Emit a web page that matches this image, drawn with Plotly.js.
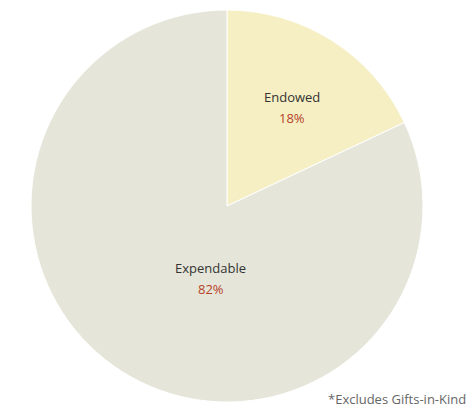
<!DOCTYPE html>
<html>
<head>
<meta charset="utf-8">
<script src="https://cdn.plot.ly/plotly-3.0.1.min.js"></script>
<style>html,body{margin:0;padding:0;background:#fff;}</style>
</head>
<body>
<div id="chart" style="width:471px;height:410px;"></div>
<script>
const categories = ["Endowed", "Expendable"];
const values = [18, 82];
const sliceColors = ["#f5efc3", "#e5e6d9"];
const footnote = "*Excludes Gifts-in-Kind";

// label placement (paper coords) for each slice: [x, yName, yPercent]
const labelPos = [[0.666, 0.779, 0.725], [0.459, 0.343, 0.287]];

const total = values.reduce((a, b) => a + b, 0);
const font = "Open Sans, Liberation Sans, Arial, sans-serif";

const trace = {
  type: "pie",
  labels: categories,
  values: values,
  sort: false,
  direction: "clockwise",
  rotation: 0,
  marker: {colors: sliceColors, line: {color: "#ffffff", width: 1}},
  textinfo: "none",
  hoverinfo: "none",
  showlegend: false
};

const annotations = [];
categories.forEach((c, i) => {
  const pct = Math.round(values[i] / total * 100) + "%";
  annotations.push({text: c, xref: "paper", yref: "paper", x: labelPos[i][0], y: labelPos[i][1],
    xanchor: "center", yanchor: "middle", showarrow: false,
    font: {family: font, size: 13, color: "#333333"}});
  annotations.push({text: pct, xref: "paper", yref: "paper", x: labelPos[i][0], y: labelPos[i][2],
    xanchor: "center", yanchor: "middle", showarrow: false,
    font: {family: font, size: 13, color: "#b5432a"}});
});
annotations.push({
  text: footnote, xref: "paper", yref: "paper",
  x: 0.752, y: -0.0204, xanchor: "left", yanchor: "bottom", showarrow: false,
  font: {family: font, size: 13, color: "#666666"}
});

const layout = {
  width: 471,
  height: 410,
  margin: {l: 31, r: 48, t: 10, b: 8},
  paper_bgcolor: "#ffffff",
  showlegend: false,
  annotations: annotations
};

Plotly.newPlot("chart", [trace], layout, {displayModeBar: false, staticPlot: true});
</script>
</body>
</html>
